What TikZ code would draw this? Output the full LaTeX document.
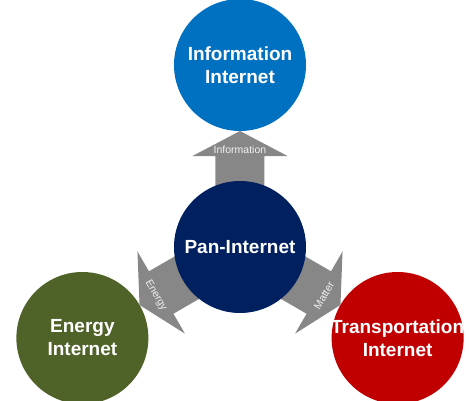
\documentclass[tikz,border=0pt]{standalone}
\usepackage{fontspec}
\setmainfont{Liberation Sans}
\usepackage{tikz}
\usetikzlibrary{calc}
\definecolor{infoblue}{HTML}{0070C0}
\definecolor{pannavy}{HTML}{002060}
\definecolor{energygreen}{HTML}{4F6228}
\definecolor{transred}{HTML}{C00000}
\definecolor{flowgray}{HTML}{878787}
\tikzset{
    netblk/.style={circle, minimum size=132pt, inner sep=-5pt, align=center, text=white,
                   font=\fontsize{19}{23}\selectfont\bfseries},
    hubblk/.style={netblk, fill=pannavy},
    flowarr/.style={fill=flowgray},
    flowlbl/.style={text=white!88!flowgray, font=\fontsize{10.5}{12}\selectfont, inner sep=0pt}
}

\begin{document}
\begin{tikzpicture}
    \useasboundingbox (-240pt,-153pt) rectangle (229pt,247pt);
    % flow arrows out of the hub
    \foreach \ang/\lbl/\rot in {90/Information/0, 210/Energy/-60, 330/Matter/60}{
        \fill[flowarr, rotate=\ang] (50pt,-24.5pt) -- (91pt,-24.5pt) -- (91pt,-47.5pt) -- (116pt,0pt)
            -- (91pt,47.5pt) -- (91pt,24.5pt) -- (50pt,24.5pt) -- cycle;
        \node[flowlbl, rotate=\rot] (flow-\ang) at (\ang:97pt) {\lbl};
    }
    % hub and the three networks
    \node[hubblk] (pan) at (0,0) {Pan-Internet};
    \node[netblk, fill=infoblue] (info) at (90:182pt) {Information\\Internet};
    \node[netblk, fill=energygreen] (energy) at (210:182pt) {Energy\\Internet};
    \node[netblk, fill=transred] (trans) at (330:182pt) {Transportation\\Internet};
\end{tikzpicture}
\end{document}
